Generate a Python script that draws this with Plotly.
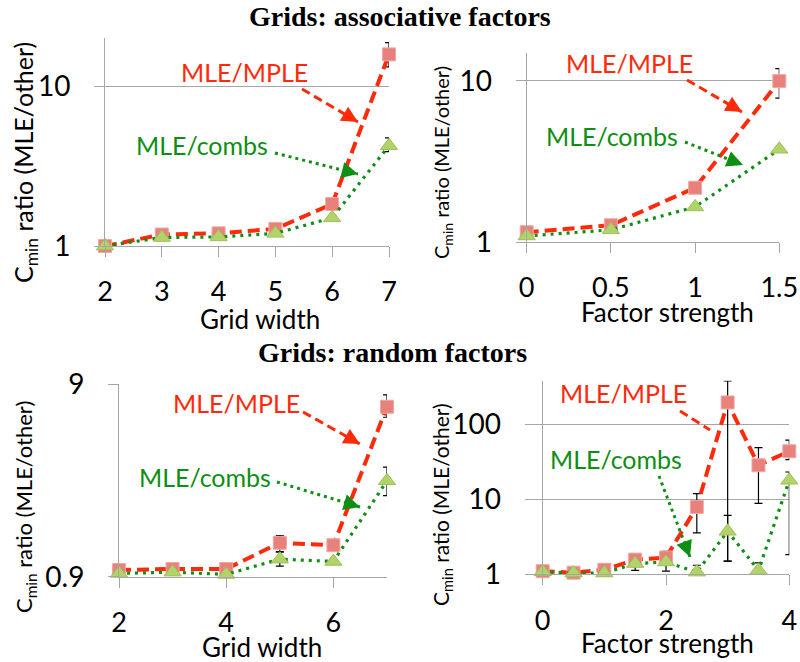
import plotly.graph_objects as go

W, H = 800, 662

# ---------------- data ----------------
p1_x = [2, 3, 4, 5, 6, 7]
p1_mple = [1.0, 1.18, 1.2, 1.28, 1.83, 15.8]
p1_mple_up = [0, 0, 0, 0, 0, 2.9]
p1_mple_dn = [0, 0, 0, 0, 0, 2.6]
p1_combs = [1.0, 1.13, 1.14, 1.2, 1.5, 4.24]
p1_combs_up = [0, 0, 0, 0, 0, 0.5]
p1_combs_dn = [0, 0, 0, 0, 0, 0.35]

p2_x = [0, 0.5, 1, 1.5]
p2_mple = [1.15, 1.27, 2.17, 9.95]
p2_mple_up = [0, 0, 0, 1.95]
p2_mple_dn = [0, 0, 0, 2.15]
p2_combs = [1.09, 1.19, 1.65, 3.76]
p2_combs_up = [0, 0, 0, 0]
p2_combs_dn = [0, 0, 0, 0]

p3_x = [2, 3, 4, 5, 6, 7]
p3_mple = [0.975, 0.987, 0.987, 1.35, 1.31, 6.86]
p3_mple_up = [0, 0, 0, 0.12, 0, 1.04]
p3_mple_dn = [0, 0, 0, 0.14, 0, 0.81]
p3_combs = [0.936, 0.95, 0.925, 1.11, 1.08, 2.83]
p3_combs_up = [0, 0, 0, 0.1, 0, 0.5]
p3_combs_dn = [0, 0, 0, 0.09, 0, 0.46]

p4_x = [0, 0.5, 1, 1.5, 2, 2.5, 3, 3.5, 4]
p4_mple = [1.1, 1.05, 1.15, 1.57, 1.67, 7.9, 195, 28.4, 43.6]
p4_mple_up = [0, 0, 0, 0.28, 0.36, 4.0, 183, 20.5, 17.6]
p4_mple_dn = [0, 0, 0, 0.44, 0.57, 4.34, 193.5, 19.6, 9.8]
p4_combs = [1.08, 1.04, 1.04, 1.39, 1.46, 1.07, 3.74, 1.13, 17.9]
p4_combs_up = [0, 0, 0, 0, 0, 0.25, 2.36, 0.29, 5.2]
p4_combs_dn = [0, 0, 0, 0, 0, 0, 2.24, 0, 16.07]

series_mple_name = "MLE/MPLE"
series_combs_name = "MLE/combs"
title_top = "Grids: associative factors"
title_bottom = "Grids: random factors"
ytitle = "C<sub>min</sub> ratio (MLE/other)"

# ---------------- styling ----------------
RED_LINE = "#FF2A0A"
RED_FILL = "#E8807C"
RED_EDGE = "#F0A8A4"
GRN_LINE = "#0E8F14"
GRN_FILL = "#B2D36A"
GRN_EDGE = "#9CC058"
GRID = "#A6A6A6"
FONT = "Lato"


def fx(px):
    return px / W


def fy(py):
    return 1 - py / H


panels = [
    dict(x=p1_x, m=p1_mple, mu=p1_mple_up, md=p1_mple_dn,
         c=p1_combs, cu=p1_combs_up, cd=p1_combs_dn,
         dom_x=(105, 389), dom_y=(38, 246), xr=[2, 7], yr=[0, 1.301],
         xt=[2, 3, 4, 5, 6, 7], yt=[1, 10], ytt=["1", "10"], xtitle="Grid width",
         ylen=10),
    dict(x=p2_x, m=p2_mple, mu=p2_mple_up, md=p2_mple_dn,
         c=p2_combs, cu=p2_combs_up, cd=p2_combs_dn,
         dom_x=(526.7, 779.3), dom_y=(52.7, 242), xr=[0, 1.5], yr=[0, 1.174],
         xt=[0, 0.5, 1, 1.5], yt=[1, 10], ytt=["1", "10"], xtitle="Factor strength",
         ylen=10),
    dict(x=p3_x, m=p3_mple, mu=p3_mple_up, md=p3_mple_dn,
         c=p3_combs, cu=p3_combs_up, cd=p3_combs_dn,
         dom_x=(119, 387), dom_y=(384, 576.7), xr=[2, 7], yr=[-0.04576, 0.95424],
         xt=[2, 4, 6], yt=[0.9, 9], ytt=["0.9", "9"], xtitle="Grid width",
         ylen=10),
    dict(x=p4_x, m=p4_mple, mu=p4_mple_up, md=p4_mple_dn,
         c=p4_combs, cu=p4_combs_up, cd=p4_combs_dn,
         dom_x=(542.7, 789.3), dom_y=(380.7, 574.3), xr=[0, 4], yr=[0, 2.58],
         xt=[0, 2, 4], yt=[1, 10, 100], ytt=["1", "10", "100"], xtitle="Factor strength",
         ylen=17),
]

fig = go.Figure()
layout = dict(width=W, height=H, autosize=False, showlegend=False,
              template="none",
              margin=dict(l=0, r=0, t=0, b=0, pad=0),
              paper_bgcolor="white", plot_bgcolor="white",
              font=dict(family=FONT, color="black"))

for i, p in enumerate(panels, start=1):
    xa = "x" if i == 1 else f"x{i}"
    ya = "y" if i == 1 else f"y{i}"
    err_style = dict(type="data", symmetric=False, color="black", thickness=1.2, width=4)
    fig.add_trace(go.Scatter(
        x=p["x"], y=p["m"], xaxis=xa, yaxis=ya, mode="lines+markers",
        name=series_mple_name, cliponaxis=False,
        line=dict(color=RED_LINE, width=4, dash="12px,6px"),
        marker=dict(symbol="square", size=13, color=RED_FILL,
                    line=dict(color=RED_EDGE, width=1)),
        error_y=dict(array=p["mu"], arrayminus=p["md"], **err_style)))
    fig.add_trace(go.Scatter(
        x=p["x"], y=p["c"], xaxis=xa, yaxis=ya, mode="lines+markers",
        name=series_combs_name, cliponaxis=False,
        line=dict(color=GRN_LINE, width=3.2, dash="3px,5px"),
        marker=dict(symbol="triangle-up", size=15, color=GRN_FILL,
                    line=dict(color=GRN_EDGE, width=1)),
        error_y=dict(array=p["cu"], arrayminus=p["cd"], **err_style)))

    xkey = "xaxis" if i == 1 else f"xaxis{i}"
    ykey = "yaxis" if i == 1 else f"yaxis{i}"
    layout[xkey] = dict(
        domain=[fx(p["dom_x"][0]), fx(p["dom_x"][1])], anchor=ya, automargin=False,
        range=p["xr"], tickvals=p["xt"], showline=True, linecolor=GRID, linewidth=1,
        ticks="outside", ticklen=10, tickcolor=GRID, tickwidth=1,
        showgrid=False, zeroline=False, ticklabelstandoff=12,
        tickfont=dict(family=FONT, size=27, color="black"))
    layout[ykey] = dict(
        domain=[fy(p["dom_y"][1]), fy(p["dom_y"][0])], anchor=xa, type="log",
        automargin=False,
        range=p["yr"], tickvals=p["yt"], ticktext=p["ytt"],
        showline=True, linecolor=GRID, linewidth=1,
        ticks="outside", ticklen=p["ylen"], tickcolor=GRID, tickwidth=1,
        showgrid=True, gridcolor=GRID, gridwidth=1, zeroline=False,
        ticklabelstandoff=18,
        tickfont=dict(family=FONT, size=28, color="black"))

fig.update_layout(**layout)

ann = []
shapes = []

# titles
ann.append(dict(text="<b>" + title_top + "</b>", x=fx(400), y=fy(17), xref="paper", yref="paper",
                showarrow=False, xanchor="center", yanchor="middle",
                font=dict(family="Liberation Serif", size=28, color="black")))
ann.append(dict(text="<b>" + title_bottom + "</b>", x=fx(392), y=fy(352), xref="paper", yref="paper",
                showarrow=False, xanchor="center", yanchor="middle",
                font=dict(family="Liberation Serif", size=28, color="black")))

# axis titles
xtitle_pos = [(260, 319), (667, 312), (262, 647), (667, 643)]
ytitle_pos = [(25, 163, 25), (442, 163, 20), (25, 507, 22), (442, 505, 21)]
for p, (tx, ty), (yx, yy, ys) in zip(panels, xtitle_pos, ytitle_pos):
    ann.append(dict(text=p["xtitle"], x=fx(tx), y=fy(ty), xref="paper", yref="paper",
                    showarrow=False, xanchor="center", yanchor="middle",
                    font=dict(family=FONT, size=26, color="black")))
    ann.append(dict(text=ytitle, x=fx(yx), y=fy(yy), xref="paper", yref="paper",
                    showarrow=False, xanchor="center", yanchor="middle", textangle=-90,
                    font=dict(family=FONT, size=ys, color="black")))

# series labels with arrows (pixel positions)
labels = [
    (series_mple_name, RED_LINE, (244, 72), (302, 89), (358, 122), "dash"),
    (series_combs_name, GRN_LINE, (202, 145), (275, 153), (358, 174), "dot"),
    (series_mple_name, RED_LINE, (629, 63), (687, 80), (742, 112), "dash"),
    (series_combs_name, GRN_LINE, (612, 136), (685, 142), (743, 165), "dot"),
    (series_mple_name, RED_LINE, (236, 403), (303, 412), (360, 444), "dash"),
    (series_combs_name, GRN_LINE, (205, 477), (277, 482), (360, 507), "dot"),
    (series_mple_name, RED_LINE, (623, 393), (680, 411), (710, 430), "dash"),
    (series_combs_name, GRN_LINE, (616, 459), (659, 476), (690, 557), "dot"),
]
for text, col, (tx, ty), (x0, y0), (x1, y1), style in labels:
    ann.append(dict(text=text, x=fx(tx), y=fy(ty), xref="paper", yref="paper",
                    showarrow=False, xanchor="center", yanchor="middle",
                    font=dict(family=FONT, size=25, color=col)))
    dash = "9px,5px" if style == "dash" else "3px,4px"
    shapes.append(dict(type="line", xref="paper", yref="paper",
                       x0=fx(x0), y0=fy(y0), x1=fx(x1), y1=fy(y1),
                       line=dict(color=col, width=3, dash=dash)))
    dxp, dyp = x1 - x0, y1 - y0
    L = (dxp ** 2 + dyp ** 2) ** 0.5
    ann.append(dict(text="", x=fx(x1), y=fy(y1), xref="paper", yref="paper",
                    showarrow=True, arrowhead=2, arrowsize=1.3, arrowwidth=2.5,
                    arrowcolor=col, ax=-dxp / L * 6, ay=-dyp / L * 6))

fig.update_layout(annotations=ann, shapes=shapes)
fig.write_html("out.html", config={"displayModeBar": False},
               post_script="document.body.style.margin='0';document.body.style.padding='0';document.body.style.overflow='hidden';")
